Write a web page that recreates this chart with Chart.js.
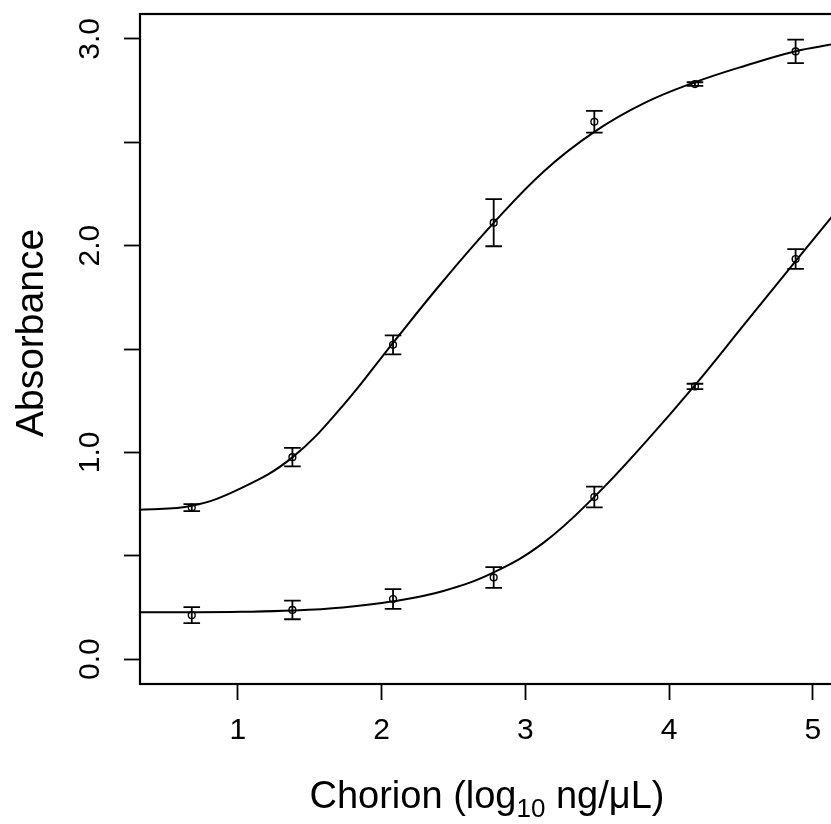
<!DOCTYPE html>
<html>
<head>
<meta charset="utf-8">
<script src="https://cdn.jsdelivr.net/npm/chart.js@4.4.1/dist/chart.umd.min.js"></script>
<style>
  html, body { margin: 0; padding: 0; background: #fff; overflow: hidden; }
  #wrap { width: 831px; height: 824px; overflow: hidden; }
</style>
</head>
<body>
<div id="wrap"><canvas id="elisa" width="840" height="824"></canvas></div>
<script>
// dilution series (log10 ng/uL) and mean absorbance +/- sd
const conc = [0.68, 1.38, 2.08, 2.78, 3.48, 4.18, 4.88];
const upperMean = [0.733, 0.977, 1.520, 2.111, 2.599, 2.781, 2.939];
const upperSd = [0.017, 0.045, 0.046, 0.114, 0.053, 0.009, 0.057];
const lowerMean = [0.213, 0.238, 0.291, 0.395, 0.784, 1.319, 1.935];
const lowerSd = [0.039, 0.045, 0.048, 0.050, 0.050, 0.013, 0.048];

// fitted logistic curves, sampled along x
const fitX = [0.32, 0.68, 1.02, 1.38, 1.73, 2.08, 2.43, 2.78, 3.13, 3.48, 3.83, 4.18, 4.53, 4.88, 5.15];
const upperFit = [0.723, 0.742, 0.826, 0.976, 1.225, 1.53, 1.83, 2.11, 2.36, 2.55, 2.69, 2.79, 2.87, 2.94, 2.975];
const lowerFit = [0.227, 0.227, 0.229, 0.235, 0.250, 0.280, 0.33, 0.42, 0.565, 0.785, 1.045, 1.325, 1.625, 1.925, 2.155];

const xTicks = [1, 2, 3, 4, 5];
const yTicks = [0, 0.5, 1, 1.5, 2, 2.5, 3];
const yLabels = ['0.0', '', '1.0', '', '2.0', '', '3.0'];

const FONT = '"Liberation Sans", Arial, Helvetica, sans-serif';

function pts(xv, yv) {
    return xv.map((x, i) => ({x: x, y: yv[i]}));
}

// box, error bars, rotated y labels and axis titles in base-R style
const rStyle = {
    id: 'rStyle',
    afterDatasetsDraw(chart) {
        const ctx = chart.ctx;
        const xs = chart.scales.x, ys = chart.scales.y;
        ctx.save();
        ctx.strokeStyle = '#000';
        ctx.lineWidth = 1.8;
        [[upperMean, upperSd], [lowerMean, lowerSd]].forEach(([m, sd]) => {
            conc.forEach((c, i) => {
                const px = xs.getPixelForValue(c);
                const hi = ys.getPixelForValue(m[i] + sd[i]);
                const lo = ys.getPixelForValue(m[i] - sd[i]);
                ctx.beginPath();
                ctx.moveTo(px, hi); ctx.lineTo(px, lo);
                ctx.moveTo(px - 8.3, hi); ctx.lineTo(px + 8.3, hi);
                ctx.moveTo(px - 8.3, lo); ctx.lineTo(px + 8.3, lo);
                ctx.stroke();
            });
        });
        ctx.restore();
    },
    afterDraw(chart) {
        const ctx = chart.ctx;
        const a = chart.chartArea;
        const ys = chart.scales.y;
        ctx.save();
        ctx.strokeStyle = '#000';
        ctx.lineWidth = 2.2;
        ctx.strokeRect(a.left, a.top, a.right - a.left, a.bottom - a.top);

        ctx.fillStyle = '#000';
        // y tick labels, parallel to the axis
        ctx.font = '30px ' + FONT;
        ctx.textAlign = 'center';
        ctx.textBaseline = 'middle';
        yTicks.forEach((v, i) => {
            if (!yLabels[i]) return;
            ctx.save();
            ctx.translate(91, ys.getPixelForValue(v));
            ctx.rotate(-Math.PI / 2);
            ctx.fillText(yLabels[i], 0, 0);
            ctx.restore();
        });

        // y title
        ctx.save();
        ctx.font = '39px ' + FONT;
        ctx.textBaseline = 'alphabetic';
        ctx.translate(42.5, 333);
        ctx.rotate(-Math.PI / 2);
        ctx.fillText('Absorbance', 0, 0);
        ctx.restore();

        // x title with subscript
        const main = '38px ' + FONT, sub = '26px ' + FONT;
        const p1 = 'Chorion (log', p2 = '10', p3 = ' ng/\u03bcL)';
        ctx.font = main; const w1 = ctx.measureText(p1).width, w3 = ctx.measureText(p3).width;
        ctx.font = sub; const w2 = ctx.measureText(p2).width;
        let x = (a.left + a.right) / 2 - (w1 + w2 + w3) / 2;
        const base = 808;
        ctx.textAlign = 'left';
        ctx.textBaseline = 'alphabetic';
        ctx.font = main; ctx.fillText(p1, x, base); x += w1;
        ctx.font = sub; ctx.fillText(p2, x, base + 9); x += w2;
        ctx.font = main; ctx.fillText(p3, x, base);
        ctx.restore();
    }
};

const ctx = document.getElementById('elisa').getContext('2d');
new Chart(ctx, {
    type: 'scatter',
    data: {
        datasets: [
            {data: pts(fitX, upperFit), showLine: true, pointRadius: 0, borderColor: '#000', borderWidth: 2, tension: 0.4},
            {data: pts(fitX, lowerFit), showLine: true, pointRadius: 0, borderColor: '#000', borderWidth: 2, tension: 0.4},
            {data: pts(conc, upperMean), pointRadius: 3.4, borderWidth: 1.4, borderColor: '#000', backgroundColor: 'rgba(0,0,0,0)'},
            {data: pts(conc, lowerMean), pointRadius: 3.4, borderWidth: 1.4, borderColor: '#000', backgroundColor: 'rgba(0,0,0,0)'}
        ]
    },
    options: {
        responsive: false,
        animation: false,
        devicePixelRatio: 1,
        layout: {padding: {top: 14, right: 6, left: 0, bottom: 0}},
        plugins: {legend: {display: false}, tooltip: {enabled: false}},
        scales: {
            x: {
                type: 'linear', min: 0.32, max: 5.147,
                afterBuildTicks: (s) => { s.ticks = xTicks.map(v => ({value: v})); },
                afterFit: (s) => { s.height = 140; },
                grid: {drawOnChartArea: false, tickLength: 16, tickWidth: 1.8, tickColor: '#000'},
                border: {display: false},
                ticks: {color: '#000', padding: 13, maxRotation: 0, font: {size: 30, family: FONT}, callback: (v) => String(v)}
            },
            y: {
                type: 'linear', min: -0.12, max: 3.12,
                afterBuildTicks: (s) => { s.ticks = yTicks.map(v => ({value: v})); },
                afterFit: (s) => { s.width = 140; },
                grid: {drawOnChartArea: false, tickLength: 16, tickWidth: 1.8, tickColor: '#000'},
                border: {display: false},
                ticks: {callback: () => ''}
            }
        }
    },
    plugins: [rStyle]
});
</script>
</body>
</html>
